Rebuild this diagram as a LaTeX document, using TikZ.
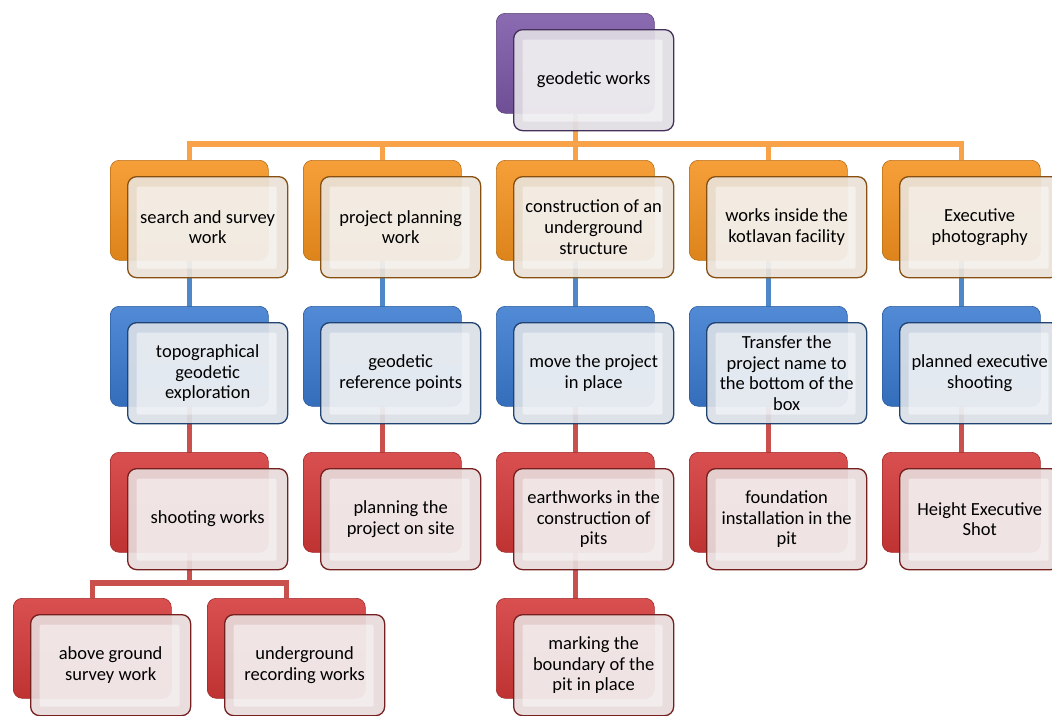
\documentclass[tikz,border=0pt]{standalone}
\usepackage{fontspec}
\setmainfont{Carlito}
\usetikzlibrary{backgrounds}
\definecolor{cpurp}{HTML}{7B57A6}
\definecolor{corng}{HTML}{F5921E}
\definecolor{cblue}{HTML}{3A7AD0}
\definecolor{cred}{HTML}{D43838}
\definecolor{lorng}{HTML}{F8A24A}
\definecolor{lblue}{HTML}{4F88C8}
\definecolor{lred}{HTML}{C9504D}
\tikzset{
  x=1pt, y=-1pt,
  backbox/.style={anchor=north west, minimum width=158pt, minimum height=100pt,
    inner sep=0pt, rounded corners=9pt, draw=#1!75!black, line width=0.6pt,
    top color=#1!88!white, bottom color=#1!90!black},
  frontbox/.style={anchor=north west, minimum width=160pt, minimum height=101pt,
    inner sep=2pt, rounded corners=9pt, draw=#1!55!black, line width=1.3pt,
    fill=#1!9!white!92!black, fill opacity=0.92, text opacity=1, align=center,
    font=\fontsize{18.5}{20.8}\selectfont,
    path picture={\fill[white, fill opacity=0.45, rounded corners=2pt]
      ([shift={(9pt,-10pt)}]path picture bounding box.north west) rectangle
      ([shift={(-11pt,9pt)}]path picture bounding box.south east);}},
  conn/.style={line width=5.5pt, draw=#1}
}
\newcommand\boxpair[5]{%
  \node[backbox=#4] (#1-b) at (#2,#3) {};
  \node[frontbox=#4] (#1) at ({#2+17},{#3+16}) {#5};
}
\begin{document}
\begin{tikzpicture}
\useasboundingbox (0,0) rectangle (1052,715);
\clip (0,0) rectangle (1052,715);
\coordinate (bus) at (0,144);
\coordinate (bus2) at (0,583);
% top
\boxpair{top}{496}{13}{cpurp}{geodetic works}
% row 1
\boxpair{a1}{110}{160}{corng}{search and survey\\work}
\boxpair{b1}{303}{160}{corng}{project planning\\work}
\boxpair{c1}{496}{160}{corng}{construction of an\\underground\\structure}
\boxpair{d1}{689}{160}{corng}{works inside the\\kotlavan facility}
\boxpair{e1}{882}{160}{corng}{Executive\\photography}
% row 2
\boxpair{a2}{110}{306}{cblue}{topographical\\geodetic\\exploration}
\boxpair{b2}{303}{306}{cblue}{geodetic\\reference points}
\boxpair{c2}{496}{306}{cblue}{move the project\\in place}
\boxpair{d2}{689}{306}{cblue}{Transfer the\\project name to\\the bottom of the\\box}
\boxpair{e2}{882}{306}{cblue}{planned executive\\shooting}
% row 3
\boxpair{a3}{110}{452}{cred}{shooting works}
\boxpair{b3}{303}{452}{cred}{planning the\\project on site}
\boxpair{c3}{496}{452}{cred}{earthworks in the\\construction of\\pits}
\boxpair{d3}{689}{452}{cred}{foundation\\installation in the\\pit}
\boxpair{e3}{882}{452}{cred}{Height Executive\\Shot}
% row 4
\boxpair{a4}{13}{598}{cred}{above ground\\survey work}
\boxpair{a5}{207}{598}{cred}{underground\\recording works}
\boxpair{c4}{496}{598}{cred}{marking the\\boundary of the\\pit in place}
\begin{scope}[on background layer]
  \draw[conn=lorng] (top-b.center) -- (top-b.center |- bus);
  \draw[conn=lorng] (a1-b.north) -- (a1-b.north |- bus) -- (e1-b.north |- bus) -- (e1-b.north);
  \draw[conn=lorng] (b1-b.north) -- (b1-b.north |- bus);
  \draw[conn=lorng] (c1-b.north) -- (c1-b.north |- bus);
  \draw[conn=lorng] (d1-b.north) -- (d1-b.north |- bus);
  \foreach \c in {a,b,c,d,e} {
    \draw[conn=lblue] (\c1-b.center) -- (\c2-b.center);
    \draw[conn=lred] (\c2-b.center) -- (\c3-b.center);
  }
  \draw[conn=lred] (c3-b.center) -- (c4-b.center);
  \draw[conn=lred] (a3-b.center) -- (a3-b.center |- bus2);
  \draw[conn=lred] (a4-b.north) -- (a4-b.north |- bus2) -- (a5-b.north |- bus2) -- (a5-b.north);
\end{scope}
\end{tikzpicture}
\end{document}
